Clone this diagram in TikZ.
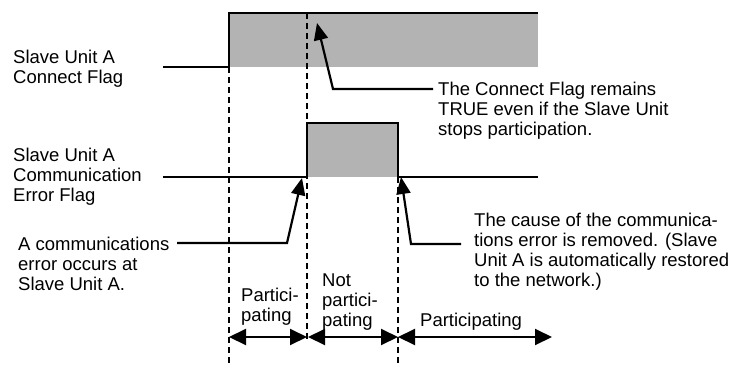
\documentclass[tikz,border=0pt]{standalone}
\usepackage{fontspec}
\setmainfont{Liberation Sans}
\usetikzlibrary{arrows.meta}
\definecolor{flaggray}{HTML}{B3B3B3}
\begin{document}
\begin{tikzpicture}[x=1pt,y=-1pt,
  lbl/.style={anchor=north west,inner sep=0pt,align=left,font=\fontsize{18.5}{20}\selectfont},
  sig/.style={line width=1.7pt,line join=miter},
  guide/.style={line width=1.4pt,dash pattern=on 6pt off 4pt},
  callout/.style={line width=2.2pt,-{Triangle[length=17pt,width=14pt]}},
  span/.style={line width=2pt,{Triangle[length=17pt,width=16pt]}-{Triangle[length=17pt,width=16pt]}}]
\useasboundingbox (0,0) rectangle (732,365);
% signals
\fill[flaggray] (229,13) rectangle (538,67);
\draw[sig] (163,67) -- (229,67) -- (229,13) -- (538,13);
\fill[flaggray] (307,123) rectangle (398,177);
\draw[sig] (163,177) -- (307,177) -- (307,123) -- (398,123) -- (398,177) -- (538,177);
% guides
\draw[guide] (229,67) -- (229,365);
\draw[guide] (307,13) -- (307,340);
\draw[guide] (398,177) -- (398,365);
% labels
\node[lbl] (la) at (13,49.5) {Slave Unit A\\Connect Flag};
\node[lbl] (lb) at (13,147.5) {Slave Unit A\\Communication\\Error Flag};
\node[lbl] (lc) at (18,236.5) {A communications\\error occurs at\\Slave Unit A.};
\node[lbl] (ra) at (438,81.5) {The Connect Flag remains\\TRUE even if the Slave Unit\\stops participation.};
\node[lbl] (rb) at (474,212.5) {The cause of the communica-\\tions error is removed. (Slave\\Unit A is automatically restored\\to the network.)};
\node[lbl] (p1) at (241,287.5) {Partici-\\pating};
\node[lbl] (p2) at (322,273.5) {Not\\partici-\\pating};
\node[lbl] (p3) at (420,312.5) {Participating};
% callouts
\coordinate (c1s) at (433,89); \coordinate (c1e) at (333,89); \coordinate (c1t) at (317,23);
\coordinate (c2s) at (177,243); \coordinate (c2e) at (287,243); \coordinate (c2t) at (302,178);
\coordinate (c3s) at (461,244); \coordinate (c3e) at (411,244); \coordinate (c3t) at (401,177);
\draw[callout] (c1s) -- (c1e) -- (c1t);
\draw[callout] (c2s) -- (c2e) -- (c2t);
\draw[callout] (c3s) -- (c3e) -- (c3t);
% spans
\coordinate (s0) at (229,337); \coordinate (s1) at (307,337);
\coordinate (s1b) at (308,337); \coordinate (s2) at (398,337); \coordinate (s3) at (552,337);
\draw[span] (s0) -- (s1);
\draw[span] (s1b) -- (s2);
\draw[span] (s2) -- (s3);
\end{tikzpicture}
\end{document}
